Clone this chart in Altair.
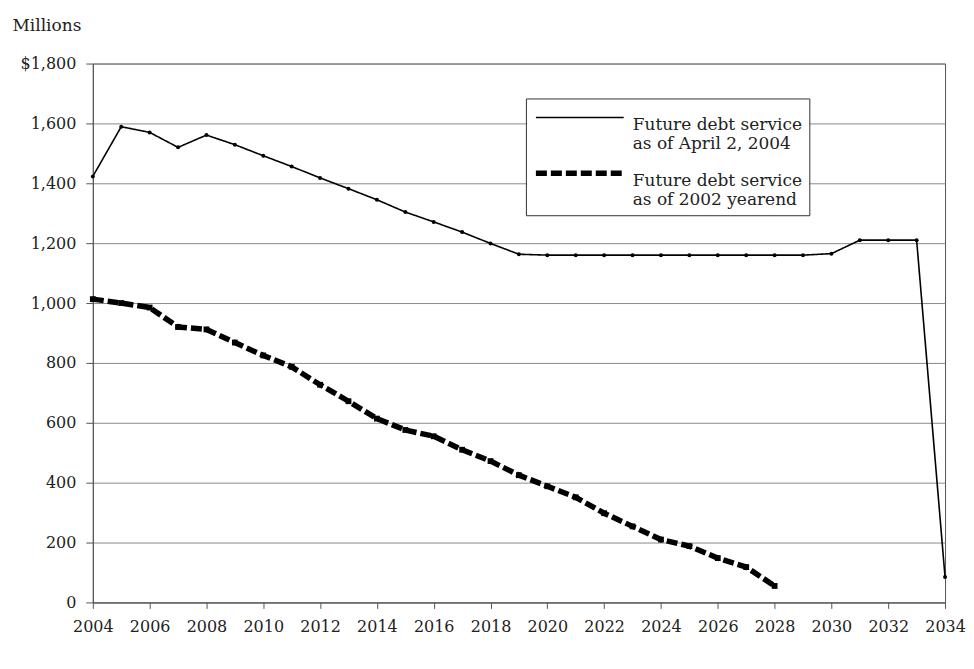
import altair as alt
import pandas as pd

# ---- data ----
years_april = list(range(2004, 2035))
debt_april = [1423, 1589, 1570, 1520, 1561, 1529, 1492, 1456, 1418, 1382,
              1345, 1304, 1271, 1237, 1199, 1163, 1160, 1160, 1160, 1160,
              1160, 1160, 1160, 1160, 1160, 1160, 1165, 1210, 1210, 1210, 85]

years_2002 = list(range(2004, 2029))
debt_2002 = [1013, 1000, 985, 920, 912, 868, 825, 787, 727, 672,
             614, 576, 555, 510, 472, 425, 388, 351, 298, 254,
             210, 188, 148, 118, 55]

series_names = ["Future debt service|as of April 2, 2004",
                "Future debt service|as of 2002 yearend"]
y_ticks = [0, 200, 400, 600, 800, 1000, 1200, 1400, 1600, 1800]
x_ticks = list(range(2004, 2035, 2))

df = pd.concat([
    pd.DataFrame({"year": years_april, "value": debt_april, "series": series_names[0]}),
    pd.DataFrame({"year": years_2002, "value": debt_2002, "series": series_names[1]}),
], ignore_index=True)

FONT = "DejaVu Serif"
TXT = "#222222"

x_enc = alt.X(
    "year:Q",
    scale=alt.Scale(domain=[2004, 2034], nice=False, zero=False),
    axis=alt.Axis(values=x_ticks, format="d", title=None, grid=False,
                  tickSize=6, labelPadding=10, labelFont=FONT, labelFontSize=16,
                  labelColor=TXT, domainColor="#555", tickColor="#555",
                  labelFlush=False),
)
y_enc = alt.Y(
    "value:Q",
    scale=alt.Scale(domain=[0, 1800], nice=False),
    axis=alt.Axis(values=y_ticks,
                  labelExpr="datum.value == 1800 ? '$1,800' : format(datum.value, ',')",
                  title="Millions", titleAngle=0, titleAlign="left",
                  titleBaseline="alphabetic", titleX=-81, titleY=-33,
                  titleFont=FONT, titleFontSize=17, titleFontWeight="normal",
                  titleColor=TXT, labelFont=FONT, labelFontSize=16,
                  labelColor=TXT, tickSize=7, labelPadding=10,
                  gridColor="#8a8a8a", gridWidth=1, domainColor="#555",
                  tickColor="#555"),
)

# wide flat line symbol, drawn from the left edge of the symbol column
SYMBOL_PATH = "M-1,0H7"

legend_kw = dict(
    title=None, orient="none", legendX=434, legendY=35,
    strokeColor="#333", fillColor="white", padding=7, cornerRadius=0,
    symbolType=SYMBOL_PATH, symbolSize=484, symbolStrokeColor="black",
    labelExpr="split(datum.label, '|')", labelFont=FONT, labelFontSize=17,
    labelColor=TXT, labelLimit=400, rowPadding=7, labelOffset=72,
    labelBaseline="top",
)


def build(extra):
    legend = alt.Legend(**legend_kw, **extra)
    lines = alt.Chart(df).mark_line().encode(
        x=x_enc, y=y_enc,
        color=alt.Color("series:N", scale=alt.Scale(domain=series_names, range=["black", "black"]), legend=legend),
        strokeDash=alt.StrokeDash("series:N", scale=alt.Scale(domain=series_names, range=[[1, 0], [11, 4]]), legend=legend),
        strokeWidth=alt.StrokeWidth("series:N", scale=alt.Scale(domain=series_names, range=[1.6, 5.5]), legend=legend),
    )
    pts_a = alt.Chart(df).transform_filter(
        alt.datum.series == series_names[0]
    ).mark_point(filled=True, opacity=1, color="black", shape="circle", size=16).encode(
        x="year:Q", y="value:Q")
    pts_b = alt.Chart(df).transform_filter(
        alt.datum.series == series_names[1]
    ).mark_point(filled=True, opacity=1, color="black", shape="square", size=34).encode(
        x="year:Q", y="value:Q")
    c = alt.layer(lines, pts_a, pts_b).properties(
        width=854, height=540,
        padding={"left": 4, "top": 8, "right": 0, "bottom": 2},
        background="white",
    ).configure_view(stroke="#555", strokeWidth=1)
    c.to_dict()
    return c


try:
    chart = build({"labelLineHeight": 23})
except Exception:
    chart = build({})

chart.save("out.html", embed_options={"renderer": "svg", "actions": False})
